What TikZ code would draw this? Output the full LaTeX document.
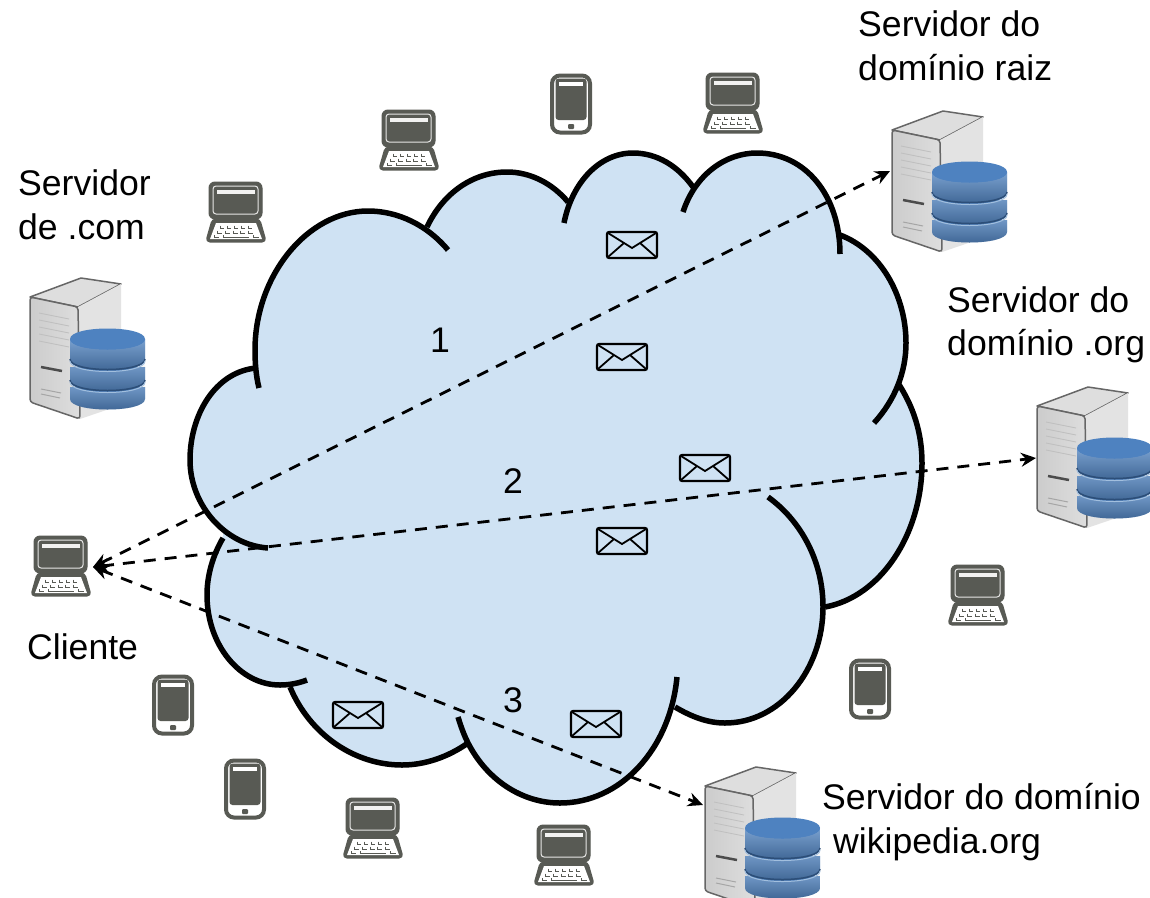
\documentclass[tikz,border=0pt]{standalone}
\usepackage{fontspec}
\setmainfont{Liberation Sans}
\usetikzlibrary{arrows.meta}
\definecolor{cloudblue}{RGB}{207,226,243}
\definecolor{icongray}{RGB}{88,90,84}
\definecolor{dbside}{RGB}{78,130,192}
\definecolor{dbmid}{RGB}{104,130,160}
\definecolor{dbtop}{RGB}{122,164,208}
\definecolor{dbline}{RGB}{44,78,120}
\newcommand{\lobeA}{(256,368) .. controls (215,372) and (190,415) .. (190,460) .. controls (190,505) and (225,545) .. (268,548)}
\newcommand{\lobeB}{(223,538) .. controls (213,555) and (207,575) .. (207,595) .. controls (207,645) and (240,685) .. (280,685) .. controls (290,685) and (299,683) .. (307,680)}
\newcommand{\lobeC}{(290,687) .. controls (310,735) and (355,765) .. (402,765) .. controls (425,765) and (448,757) .. (468,743)}
\newcommand{\lobeD}{(458,717) .. controls (462,730) and (465,737) .. (468,743) .. controls (487,780) and (522,803) .. (560,803) .. controls (620,803) and (670,750) .. (677,677)}
\newcommand{\lobeE}{(675,707) .. controls (692,717) and (708,723) .. (725,723) .. controls (780,723) and (823,670) .. (823,607) .. controls (823,560) and (800,520) .. (768,497)}
\newcommand{\lobeF}{(825,607) .. controls (880,597) and (922,535) .. (922,463) .. controls (922,432) and (913,406) .. (898,383)}
\newcommand{\lobeG}{(874,423) .. controls (895,400) and (906,372) .. (906,343) .. controls (906,295) and (880,250) .. (840,235)}
\newcommand{\lobeH}{(840,254) .. controls (840,195) and (805,153) .. (757,153) .. controls (725,153) and (695,175) .. (683,212)}
\newcommand{\lobeI}{(693,187) .. controls (678,166) and (657,153) .. (633,153) .. controls (600,153) and (572,182) .. (564,223)}
\newcommand{\lobeJ}{(568,202) .. controls (552,183) and (530,172) .. (507,172) .. controls (473,172) and (443,193) .. (427,227)}
\newcommand{\lobeK}{(448,250) .. controls (427,225) and (398,211) .. (368,211) .. controls (308,211) and (255,275) .. (255,350) .. controls (255,363) and (256,376) .. (259,388)}
\tikzset{
	lobeline/.style={draw=black,line width=5.5pt},
	lobefill/.style={fill=cloudblue,draw=cloudblue,line width=1pt},
	msgline/.style={{Stealth[length=15pt,width=14pt,inset=5pt]}-{Stealth[length=15pt,width=14pt,inset=5pt]},dash pattern=on 12pt off 9pt,line width=2.8pt},
	label/.style={font=\fontsize{35.6}{43.5}\selectfont,align=left,inner sep=0pt},
	dbband/.style={left color=dbside,middle color=dbmid,right color=dbside},
	pics/laptopicon/.style={code={
		\draw[icongray,fill=icongray,line width=1pt,rounded corners=6pt] (-27,-31) rectangle (26,6);
		\draw[white!85!icongray,line width=1pt,rounded corners=3pt] (-23,-27) rectangle (22,1);
		\fill[white!92!icongray] (-19,-23) rectangle (19,-19);
		\draw[icongray,fill=icongray,line width=3pt,rounded corners=3pt,line join=round] (-23,7) -- (23,7) -- (29,28) -- (-29,28) -- cycle;
		\fill[white] (-20,10) -- (20,10) -- (26,26) -- (-26,26) -- cycle;
		\foreach \col in {0,...,4} {
			\draw[icongray,line width=1pt] (-16+7*\col,12.5) -- (-16+7*\col,15) -- (-12+7*\col,15);
			\draw[icongray,line width=1pt] (-18.5+7.8*\col,17.5) -- (-18.5+7.8*\col,20) -- (-14+7.8*\col,20);
		}
		\draw[icongray,line width=1pt] (-22,22) -- (-22,24.5) -- (-17,24.5);
		\draw[icongray,line width=1pt] (-13,22) -- (-13,24.5) -- (13,24.5);
		\draw[icongray,line width=1pt] (17,22) -- (17,24.5) -- (23,24.5);
	}},
	pics/phoneicon/.style={code={
		\draw[icongray,fill=white,line width=4pt,rounded corners=8pt] (-19,-28.5) rectangle (19,28.5);
		\fill[icongray,rounded corners=3pt] (-15.5,-25.5) rectangle (15.5,16);
		\fill[white] (-12,-22) rectangle (12,-18);
		\fill[icongray,rounded corners=1pt] (-3,20) rectangle (3,25);
	}},
	pics/mailicon/.style={code={
		\draw[black,fill=cloudblue,line width=2.2pt,rounded corners=2pt] (-25,-13) rectangle (25,13);
		\draw[black,line width=1.8pt] (-24,-12) -- (0,3) -- (24,-12) (-24,12) -- (-8,-2) (24,12) -- (8,-2);
	}},
	pics/servericon/.style={code={
		\draw[black!60,fill=black!13,line width=1.5pt,line join=round] (0,0) -- (51,-19) -- (91,-13) -- (48,10) -- cycle;
		\fill[black!11] (48,10) -- (91,-13) -- (91,108) -- (50,122) -- cycle;
		\draw[black!60,left color=black!20,right color=black!13,line width=1.5pt,rounded corners=3pt] (0,0) -- (48,10) -- (50,122) -- (0,105) -- cycle;
		\foreach \row in {0,...,4} {
			\draw[black!25,line width=.8pt] (9,16+7*\row) -- (39,22+7*\row);
		}
		\draw[black!70,line width=2.5pt] (11,70) -- (32,74);
		\draw[black!35,line width=1pt] (11,92) -- (31,96) (11,97) -- (30,101);
		\shade[dbband] (40,90) -- (40,102) .. controls (40,116) and (115,116) .. (115,102) -- (115,90) -- cycle;
		\shade[dbband] (40,70) -- (40,84) .. controls (40,98) and (115,98) .. (115,84) -- (115,70) -- cycle;
		\shade[dbband] (40,42) -- (40,63) .. controls (40,77) and (115,77) .. (115,63) -- (115,42) -- cycle;
		\shade[top color=white,bottom color=black,opacity=.25] (40,85) -- (40,102) .. controls (40,116) and (115,116) .. (115,102) -- (115,85) .. controls (115,99) and (40,99) .. (40,85) -- cycle;
		\shade[top color=white,bottom color=black,opacity=.25] (40,64) -- (40,84) .. controls (40,98) and (115,98) .. (115,84) -- (115,64) .. controls (115,78) and (40,78) .. (40,64) -- cycle;
		\shade[top color=white,bottom color=black,opacity=.25] (40,42) -- (40,63) .. controls (40,77) and (115,77) .. (115,63) -- (115,42) .. controls (115,56) and (40,56) .. (40,42) -- cycle;
		\shade[left color=dbside,middle color=dbtop,right color=dbside] (40,42) .. controls (40,28) and (115,28) .. (115,42) .. controls (115,56) and (40,56) .. (40,42) -- cycle;
		\draw[dbline,line width=1.5pt] (40,62) .. controls (40,76) and (115,76) .. (115,62);
		\draw[dbline,line width=1.5pt] (40,83) .. controls (40,97) and (115,97) .. (115,83);
		\draw[dbtop!70!white,line width=1pt] (40,64) .. controls (40,78) and (115,78) .. (115,64);
		\draw[dbtop!70!white,line width=1pt] (40,85) .. controls (40,99) and (115,99) .. (115,85);
	}}
}
\begin{document}
\begin{tikzpicture}[x=1pt,y=-1pt]
\clip (0,0) rectangle (1150,897);
\fill[white] (0,0) rectangle (1150,897);

\path[lobefill] (256,368) -- (427,227) -- (568,202) -- (693,187) -- (840,235) -- (898,383) -- (825,607) -- (675,707) -- (468,743) -- (290,687) -- (223,538) -- cycle;
\foreach \lobe in {\lobeA,\lobeB,\lobeC,\lobeD,\lobeE,\lobeF,\lobeG,\lobeH,\lobeI,\lobeJ,\lobeK} {
	\path[lobefill] \lobe -- cycle;
}
\foreach \lobe in {\lobeA,\lobeB,\lobeC,\lobeD,\lobeE,\lobeF,\lobeG,\lobeH,\lobeI,\lobeJ,\lobeK} {
	\draw[lobeline] \lobe;
}

\foreach \x/\y in {632/245,622/357,705/468,622/541,358/715,596/724} {
	\pic at (\x,\y) {mailicon};
}
\foreach \x/\y in {61/567,409/141,236/213,733/104,978/596,373/829,564/856} {
	\pic at (\x,\y) {laptopicon};
}
\foreach \x/\y in {571/104,173/705,245/789,870/689} {
	\pic at (\x,\y) {phoneicon};
}
\foreach \x/\y in {892/130,30/297,1037/406,705/786} {
	\pic at (\x,\y) {servericon};
}

\coordinate (clienttip) at (93,567);
\coordinate (roottip) at (890,171);
\coordinate (orgtip) at (1036,458);
\coordinate (wikitip) at (703,805);
\draw[msgline] (clienttip) -- (roottip);
\draw[msgline] (clienttip) -- (orgtip);
\draw[msgline] (clienttip) -- (wikitip);

\node[label,anchor=west] (rootname) at (858,46) {Servidor do\\domínio raiz};
\node[label,anchor=west] (comname) at (18,205) {Servidor\\de .com};
\node[label,anchor=west] (orgname) at (947,325) {Servidor do\\domínio .org};
\node[label,anchor=west] (clientname) at (27,647) {Cliente};
\node[label,anchor=west] (wikiname) at (822,822) {Servidor do domínio\\\hspace*{11pt}wikipedia.org};
\node[label] (stepone) at (440,340) {1};
\node[label] (steptwo) at (513,481) {2};
\node[label] (stepthree) at (513,700) {3};
\end{tikzpicture}
\end{document}
